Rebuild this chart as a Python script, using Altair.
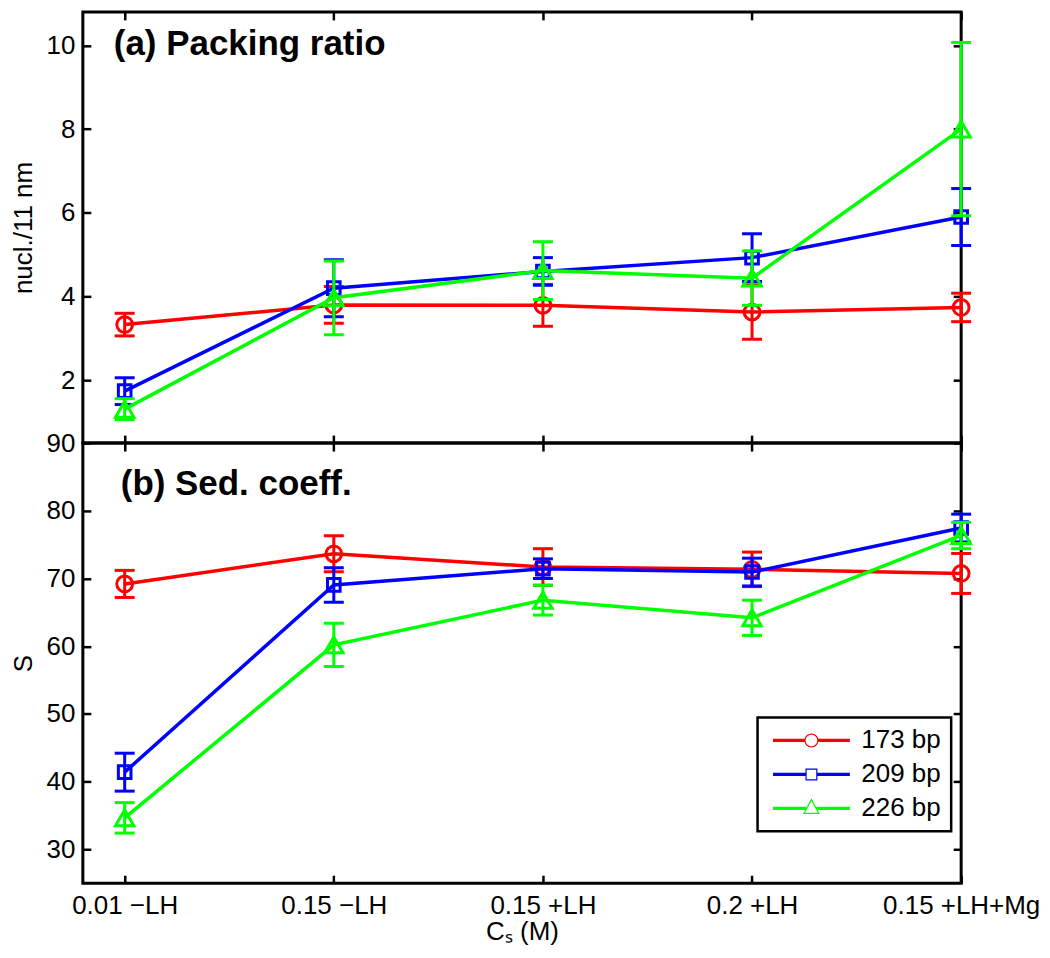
import altair as alt
import pandas as pd

FONT = "Liberation Sans"

categories = ["0.01 \u2212LH", "0.15 \u2212LH", "0.15 +LH", "0.2 +LH", "0.15 +LH+Mg"]
series_names = ["173 bp", "209 bp", "226 bp"]
series_colors = ["#ff0000", "#0000ff", "#00ff00"]
series_shapes = ["circle", "square", "triangle-up"]
series_sizes = [250, 160, 340]

# (a) Packing ratio (nucl./11 nm)
pack_173 = [3.33, 3.80, 3.79, 3.63, 3.74]
pack_173_err = [0.27, 0.44, 0.50, 0.65, 0.34]
pack_209 = [1.74, 4.20, 4.60, 4.93, 5.90]
pack_209_err = [0.32, 0.68, 0.33, 0.57, 0.68]
pack_226 = [1.31, 3.97, 4.62, 4.44, 8.00]
pack_226_err = [0.25, 0.88, 0.69, 0.65, 2.07]

# (b) Sedimentation coefficient (S)
sed_173 = [69.2, 73.65, 71.7, 71.35, 70.75]
sed_173_err = [2.0, 2.65, 2.7, 2.55, 2.95]
sed_209 = [41.4, 69.05, 71.45, 70.95, 77.45]
sed_209_err = [2.8, 2.55, 1.45, 2.05, 2.05]
sed_226 = [34.65, 60.2, 66.8, 64.2, 76.35]
sed_226_err = [2.25, 3.2, 2.2, 2.6, 1.95]


def make_df(values_list, errs_list):
    rows = []
    for s, vals, errs in zip(series_names, values_list, errs_list):
        for i, (v, e) in enumerate(zip(vals, errs)):
            rows.append({"idx": i + 1, "series": s, "value": v, "lo": v - e, "hi": v + e})
    return pd.DataFrame(rows)


df_pack = make_df([pack_173, pack_209, pack_226], [pack_173_err, pack_209_err, pack_226_err])
df_sed = make_df([sed_173, sed_209, sed_226], [sed_173_err, sed_209_err, sed_226_err])

label_expr = "[" + ",".join("'" + c + "'" for c in categories) + "][datum.value - 1]"


# ---- legend symbols: line segment + open marker (unit = sqrt(size)/2 px) ----
def f(v):
    return f"{v:.3f}"


def rect(x0, x1, h):
    return f"M{f(x0)},{f(-h)}H{f(x1)}V{f(h)}H{f(x0)}Z"


def circ(r, cw=True):
    k = 0.5523 * r
    if cw:
        return (f"M{f(r)},0C{f(r)},{f(k)} {f(k)},{f(r)} 0,{f(r)}C{f(-k)},{f(r)} {f(-r)},{f(k)} {f(-r)},0"
                f"C{f(-r)},{f(-k)} {f(-k)},{f(-r)} 0,{f(-r)}C{f(k)},{f(-r)} {f(r)},{f(-k)} {f(r)},0Z")
    return (f"M{f(r)},0C{f(r)},{f(-k)} {f(k)},{f(-r)} 0,{f(-r)}C{f(-k)},{f(-r)} {f(-r)},{f(-k)} {f(-r)},0"
            f"C{f(-r)},{f(k)} {f(-k)},{f(r)} 0,{f(r)}C{f(k)},{f(r)} {f(r)},{f(k)} {f(r)},0Z")


def poly(pts):
    return "M" + "L".join(f"{f(x)},{f(y)}" for x, y in pts) + "Z"


L, H, T = 6.42, 0.27, 0.2
sym_circle = rect(-L, -1.07, H) + rect(1.07, L, H) + circ(1.17, True) + circ(1.17 - T, False)
sym_square = (rect(-L, -0.9, H) + rect(0.9, L, H) + poly([(-1, -1), (1, -1), (1, 1), (-1, 1)])
              + poly([(-0.8, -0.8), (-0.8, 0.8), (0.8, 0.8), (0.8, -0.8)]))
A, B, C = (0.0, -1.67), (-1.4, 0.95), (1.4, 0.95)


def dist(p, q):
    return ((p[0] - q[0]) ** 2 + (p[1] - q[1]) ** 2) ** 0.5


a, b, c = dist(B, C), dist(A, C), dist(A, B)
per = a + b + c
inc = ((a * A[0] + b * B[0] + c * C[0]) / per, (a * A[1] + b * B[1] + c * C[1]) / per)
area = abs((B[0] - A[0]) * (C[1] - A[1]) - (C[0] - A[0]) * (B[1] - A[1])) / 2
rin = area / (per / 2)
fac = (rin - T) / rin


def shrink(p):
    return (inc[0] + fac * (p[0] - inc[0]), inc[1] + fac * (p[1] - inc[1]))


sym_tri = (rect(-L, -0.85, H) + rect(0.85, L, H) + poly([A, C, B])
           + poly([shrink(A), shrink(B), shrink(C)]))
legend_symbols = [sym_circle, sym_square, sym_tri]


def panel(df, ydomain, yticks, height, ytitle, title_text, title_x, title_y, bottom_labels, with_legend):
    xs = alt.Scale(domain=[0.8, 5], nice=False, zero=False)
    ys = alt.Scale(domain=ydomain, nice=False, zero=False)
    common = dict(offset=-8, tickSize=8, tickWidth=2.5, tickColor="black", domain=False, grid=False)
    x_bottom = alt.Axis(orient="bottom", values=[1, 2, 3, 4, 5], labels=bottom_labels, labelExpr=label_expr,
                        labelFont=FONT, labelFontSize=26, labelColor="black", labelPadding=9,
                        labelFlush=False, labelOverlap=False,
                        title="C\u209b (M)" if bottom_labels else None, titleFont=FONT, titleFontSize=26,
                        titleFontWeight="normal", titleColor="black", titlePadding=0, **common)
    x_top = alt.Axis(orient="top", values=[1, 2, 3, 4, 5], labels=False, title=None, **common)
    y_left = alt.Axis(orient="left", values=yticks, labelFont=FONT, labelFontSize=26, labelColor="black",
                      labelPadding=8, labelFlush=False, labelOverlap=False,
                      title=ytitle, titleFont=FONT, titleFontSize=26, titleFontWeight="normal",
                      titleColor="black", titlePadding=10, **common)
    y_right = alt.Axis(orient="right", values=yticks, labels=False, title=None, **common)

    layers = []
    for k, (s, col, shp, sz) in enumerate(zip(series_names, series_colors, series_shapes, series_sizes)):
        base = alt.Chart(df).transform_filter(alt.datum.series == s)
        xa1 = x_bottom if k == 0 else None
        ya1 = y_left if k == 0 else None
        xa2 = x_top if k == 0 else None
        ya2 = y_right if k == 0 else None
        rule = base.mark_rule(color=col, strokeWidth=3).encode(
            x=alt.X("idx:Q", scale=xs, axis=xa1),
            y=alt.Y("lo:Q", scale=ys, axis=ya1),
            y2=alt.Y2("hi:Q"),
        )
        cap_lo = base.mark_tick(color=col, orient="horizontal", size=20, thickness=3, opacity=1).encode(
            x=alt.X("idx:Q", scale=xs, axis=xa2),
            y=alt.Y("lo:Q", scale=ys, axis=ya2),
        )
        cap_hi = base.mark_tick(color=col, orient="horizontal", size=20, thickness=3, opacity=1).encode(
            x=alt.X("idx:Q", scale=xs, axis=None),
            y=alt.Y("hi:Q", scale=ys, axis=None),
        )
        line = base.mark_line(color=col, strokeWidth=3.5).encode(
            x=alt.X("idx:Q", scale=xs, axis=None),
            y=alt.Y("value:Q", scale=ys, axis=None),
        )
        pts = base.mark_point(shape=shp, filled=False, color=col, size=sz, strokeWidth=3, opacity=1).encode(
            x=alt.X("idx:Q", scale=xs, axis=None),
            y=alt.Y("value:Q", scale=ys, axis=None),
        )
        layers += [rule, cap_lo, cap_hi, line, pts]

    if with_legend:
        leg = alt.Legend(title=None, orient="none", legendX=676, legendY=707, direction="vertical",
                         symbolSize=144, symbolStrokeWidth=0, symbolOpacity=1, symbolOffset=31,
                         labelOffset=37, padding=10, rowPadding=8, labelFont=FONT, labelFontSize=26,
                         labelColor="black", strokeColor="black", fillColor="white")
        legend_layer = alt.Chart(df).mark_point(filled=True, opacity=0).encode(
            x=alt.X("idx:Q", scale=xs, axis=None),
            y=alt.Y("value:Q", scale=ys, axis=None),
            color=alt.Color("series:N", scale=alt.Scale(domain=series_names, range=series_colors), legend=leg),
            shape=alt.Shape("series:N", scale=alt.Scale(domain=series_names, range=legend_symbols), legend=leg),
        )
        layers.append(legend_layer)

    label = alt.Chart(pd.DataFrame({"t": [title_text]})).mark_text(
        align="left", baseline="alphabetic", font=FONT, fontSize=35, fontWeight="bold", color="black"
    ).encode(text="t:N", x=alt.value(title_x), y=alt.value(title_y))
    layers.append(label)

    return alt.layer(*layers).resolve_axis(x="independent", y="independent").properties(
        width=880, height=height)


top = panel(df_pack, [0.5, 10.8], [2, 4, 6, 8, 10], 432, "nucl./11 nm", "(a) Packing ratio", 31, 43, False, False)
bottom = panel(df_sed, [25, 90], [30, 40, 50, 60, 70, 80, 90], 441, "S", "(b) Sed. coeff.", 38, 52, True, True)

chart = alt.vconcat(top, bottom, spacing=0, bounds="flush").configure_view(
    stroke="black", strokeWidth=3
).configure_legend(strokeWidth=2.5).properties(
    padding={"left": 0, "top": 0, "right": 0, "bottom": 0}
)

chart.save("out.html", embed_options={"renderer": "svg", "actions": False})
